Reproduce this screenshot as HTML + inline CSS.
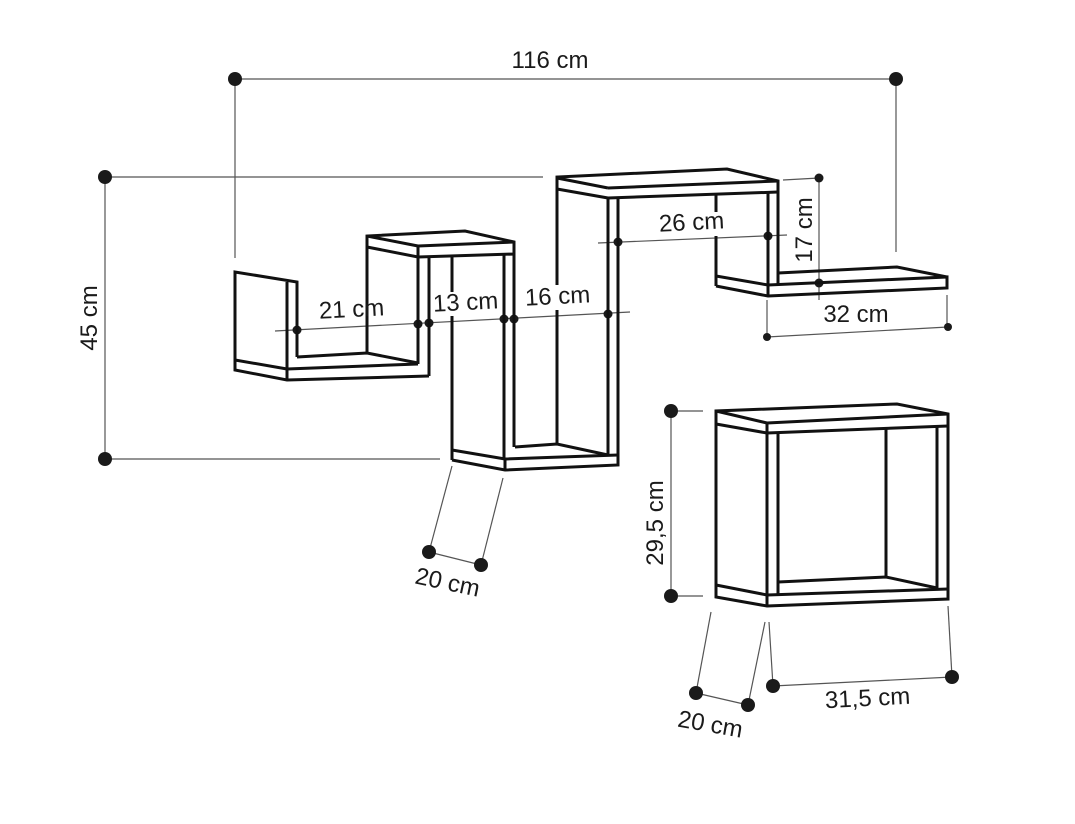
<!DOCTYPE html>
<html><head><meta charset="utf-8"><style>
html,body{margin:0;padding:0;background:#fff;}
svg{display:block}
text{font-family:"Liberation Sans",sans-serif;font-size:24px;fill:#1a1a1a}
.s{stroke:#111;stroke-width:3;fill:none;stroke-linejoin:miter}
.d{stroke:#555;stroke-width:1.2;fill:none}
circle{fill:#1a1a1a}
</style></head><body>
<svg width="1075" height="824" viewBox="0 0 1075 824" xmlns="http://www.w3.org/2000/svg">
<g class="d">
<line x1="235" y1="79" x2="896" y2="79"/>
<line x1="235" y1="79" x2="235" y2="258"/>
<line x1="896" y1="79" x2="896" y2="252"/>
<line x1="105" y1="177" x2="543" y2="177"/>
<line x1="105" y1="459" x2="440" y2="459"/>
<line x1="105" y1="177" x2="105" y2="459"/>
<line x1="275" y1="331" x2="630" y2="312"/>
<line x1="598" y1="243" x2="787" y2="235"/>
<line x1="783" y1="180" x2="819" y2="178"/>
<line x1="819" y1="178" x2="819" y2="300"/>
<line x1="767" y1="300" x2="767" y2="337"/>
<line x1="947" y1="295" x2="947" y2="327"/>
<line x1="767" y1="337" x2="948" y2="327"/>
<line x1="452" y1="466" x2="429" y2="552"/>
<line x1="503" y1="478" x2="481" y2="565"/>
<line x1="429" y1="552" x2="481" y2="565"/>
<line x1="671" y1="411" x2="703" y2="411"/>
<line x1="671" y1="596" x2="703" y2="596"/>
<line x1="671" y1="411" x2="671" y2="596"/>
<line x1="711" y1="612" x2="696" y2="693"/>
<line x1="765" y1="622" x2="748" y2="705"/>
<line x1="696" y1="693" x2="748" y2="705"/>
<line x1="769" y1="622" x2="773" y2="686"/>
<line x1="948" y1="606" x2="952" y2="677"/>
<line x1="773" y1="686" x2="952" y2="677"/>
</g>
<g>
<circle cx="235" cy="79" r="7"/><circle cx="896" cy="79" r="7"/>
<circle cx="105" cy="177" r="7"/><circle cx="105" cy="459" r="7"/>
<circle cx="297" cy="330" r="4.5"/><circle cx="418" cy="324" r="4.5"/><circle cx="429" cy="323" r="4.5"/>
<circle cx="504" cy="319" r="4.5"/><circle cx="514" cy="319" r="4.5"/><circle cx="608" cy="314" r="4.5"/>
<circle cx="618" cy="242" r="4.5"/><circle cx="768" cy="236" r="4.5"/>
<circle cx="819" cy="178" r="4.5"/><circle cx="819" cy="283" r="4.5"/>
<circle cx="767" cy="337" r="4"/><circle cx="948" cy="327" r="4"/>
<circle cx="429" cy="552" r="7"/><circle cx="481" cy="565" r="7"/>
<circle cx="671" cy="411" r="7"/><circle cx="671" cy="596" r="7"/>
<circle cx="696" cy="693" r="7"/><circle cx="748" cy="705" r="7"/>
<circle cx="773" cy="686" r="7"/><circle cx="952" cy="677" r="7"/>
</g>
<g class="s">
<polyline points="297,357 297,282 235,272 235,370 287,380 429,376"/>
<line x1="287" y1="282" x2="287" y2="380"/>
<line x1="235" y1="360" x2="287" y2="369"/>
<line x1="287" y1="369" x2="418" y2="364"/>
<polyline points="297,357 367,353 418,363"/>
<polyline points="367,353 367,236 465,231 514,242 514,254 418,257 367,247"/>
<line x1="418" y1="246" x2="514" y2="242"/>
<line x1="418" y1="246" x2="367" y2="236"/>
<line x1="418" y1="246" x2="418" y2="364"/>
<line x1="429" y1="257" x2="429" y2="376"/>
<line x1="504" y1="254" x2="504" y2="459"/>
<line x1="514" y1="254" x2="514" y2="447"/>
<line x1="452" y1="257" x2="452" y2="292"/>
<line x1="452" y1="316" x2="452" y2="460"/>
<polyline points="452,450 505,459 618,455"/>
<polyline points="452,460 505,470 618,465 618,198"/>
<line x1="505" y1="459" x2="505" y2="470"/>
<polyline points="515,447 557,444 608,455"/>
<line x1="608" y1="198" x2="608" y2="455"/>
<line x1="557" y1="177" x2="557" y2="285"/>
<line x1="557" y1="310" x2="557" y2="444"/>
<polyline points="557,187 557,177 727,169 778,181 778,285"/>
<line x1="608" y1="188" x2="778" y2="181"/>
<line x1="608" y1="198" x2="778" y2="192"/>
<line x1="557" y1="189" x2="608" y2="198"/>
<line x1="608" y1="188" x2="557" y2="178"/>
<line x1="768" y1="192" x2="768" y2="285"/>
<line x1="716" y1="195" x2="716" y2="212"/>
<line x1="716" y1="236" x2="716" y2="286"/>
<polyline points="716,276 768,285 947,277 947,288 768,296 716,286"/>
<line x1="768" y1="285" x2="768" y2="296"/>
<polyline points="778,273 897,267 947,277"/>
<polyline points="716,424 716,411 897,404 948,414 948,599 767,606 716,597 716,424"/>
<line x1="716" y1="411" x2="767" y2="423"/>
<line x1="767" y1="423" x2="948" y2="414"/>
<line x1="716" y1="424" x2="767" y2="433"/>
<line x1="767" y1="433" x2="948" y2="426"/>
<line x1="716" y1="585" x2="767" y2="595"/>
<line x1="767" y1="595" x2="948" y2="589"/>
<line x1="767" y1="423" x2="767" y2="606"/>
<line x1="778" y1="433" x2="778" y2="595"/>
<line x1="937" y1="426" x2="937" y2="589"/>
<line x1="886" y1="429" x2="886" y2="577"/>
<polyline points="778,582 886,577 937,588"/>
</g>
<text x="550" y="68" text-anchor="middle">116 cm</text>
<text transform="translate(97,318) rotate(-90)" text-anchor="middle">45 cm</text>
<text x="352" y="317" text-anchor="middle" transform="rotate(-3 352 317)">21 cm</text>
<text x="466" y="310" text-anchor="middle" transform="rotate(-3 466 310)">13 cm</text>
<text x="558" y="304" text-anchor="middle" transform="rotate(-3 558 304)">16 cm</text>
<text x="692" y="230" text-anchor="middle" transform="rotate(-3 692 230)">26 cm</text>
<text transform="translate(812,230) rotate(-90)" text-anchor="middle">17 cm</text>
<text x="856" y="322" text-anchor="middle">32 cm</text>
<text x="446" y="590" text-anchor="middle" transform="rotate(12 446 590)">20 cm</text>
<text transform="translate(663,523) rotate(-90)" text-anchor="middle">29,5 cm</text>
<text x="709" y="732" text-anchor="middle" transform="rotate(10 709 732)">20 cm</text>
<text x="868" y="706" text-anchor="middle" transform="rotate(-3 868 706)">31,5 cm</text>
</svg>
</body></html>
